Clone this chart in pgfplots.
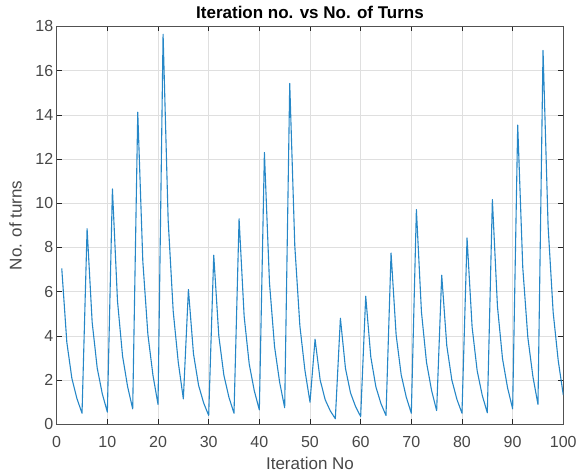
\documentclass[border=0pt]{standalone}
\usepackage{fontspec}
\setmainfont{Liberation Sans}
\usepackage{pgfplots}
\pgfplotsset{compat=1.18}

\definecolor{mlblue}{RGB}{0,114,189}
\definecolor{axgray}{RGB}{38,38,38}
\definecolor{gridgray}{RGB}{223,223,223}

\begin{document}
\begin{tikzpicture}[font=\fontsize{17}{20}\selectfont]
\begin{axis}[
  scale only axis,
  width=506.6pt, height=397.8pt,
  xmin=0, xmax=100, ymin=0, ymax=18,
  xtick={0,10,...,100}, ytick={0,2,...,18},
  /pgf/number format/assume math mode=true,
  tick label style={font=\fontsize{16}{19}\selectfont, text=axgray!85!white},
  xticklabel style={anchor=center, yshift=-18pt},
  tick align=inside, tick pos=both,
  major tick length=5pt,
  tick style={axgray, line width=0.5pt},
  axis line style={axgray!80, line width=0.9pt},
  grid=major,
  major grid style={gridgray, line width=0.6pt},
  title={\bfseries Iteration no. vs No. of Turns},
  title style={at={(axis description cs:0.5,1)}, anchor=south, yshift=-1.5pt},
  xlabel={Iteration No},
  ylabel={No. of turns},
  xlabel style={text=axgray!85!white, at={(axis description cs:0.5,-0.098)}, anchor=center},
  ylabel style={text=axgray!85!white, at={(axis description cs:-0.081,0.5)}, anchor=center},
]
\addplot[mlblue!85!white, line width=1.1pt, line join=round] table {
x y
1 7.05
2 3.71
3 2.07
4 1.16
5 0.50
6 8.85
7 4.62
8 2.54
9 1.38
10 0.55
11 10.65
12 5.58
13 3.09
14 1.70
15 0.70
16 14.12
17 7.38
18 4.07
19 2.22
20 0.90
21 17.65
22 9.24
23 5.11
24 2.80
25 1.15
26 6.10
27 3.19
28 1.77
29 0.97
30 0.40
31 7.65
32 4.00
33 2.22
34 1.22
35 0.50
36 9.30
37 4.89
38 2.73
39 1.52
40 0.65
41 12.30
42 6.41
43 3.52
44 1.91
45 0.75
46 15.42
47 8.07
48 4.46
49 2.44
50 1.00
51 3.85
52 2.01
53 1.11
54 0.61
55 0.25
56 4.80
57 2.53
58 1.42
59 0.80
60 0.35
61 5.80
62 3.05
63 1.70
64 0.94
65 0.40
66 7.75
67 4.05
68 2.24
69 1.23
70 0.50
71 9.72
72 5.08
73 2.80
74 1.53
75 0.62
76 6.75
77 3.56
78 2.00
79 1.13
80 0.50
81 8.43
82 4.40
83 2.42
84 1.31
85 0.52
86 10.17
87 5.34
88 2.97
89 1.65
90 0.70
91 13.54
92 7.09
93 3.93
94 2.16
95 0.90
96 16.92
97 8.96
98 5.06
99 2.88
100 1.32
};
\end{axis}
% page frame around the axis box, with room for titles and labels
\pgfresetboundingbox
\useasboundingbox ([xshift=-56.7pt,yshift=-50.7pt]current axis.south west)
  rectangle ([xshift=20.7pt,yshift=26.5pt]current axis.north east);
\end{tikzpicture}
\end{document}
